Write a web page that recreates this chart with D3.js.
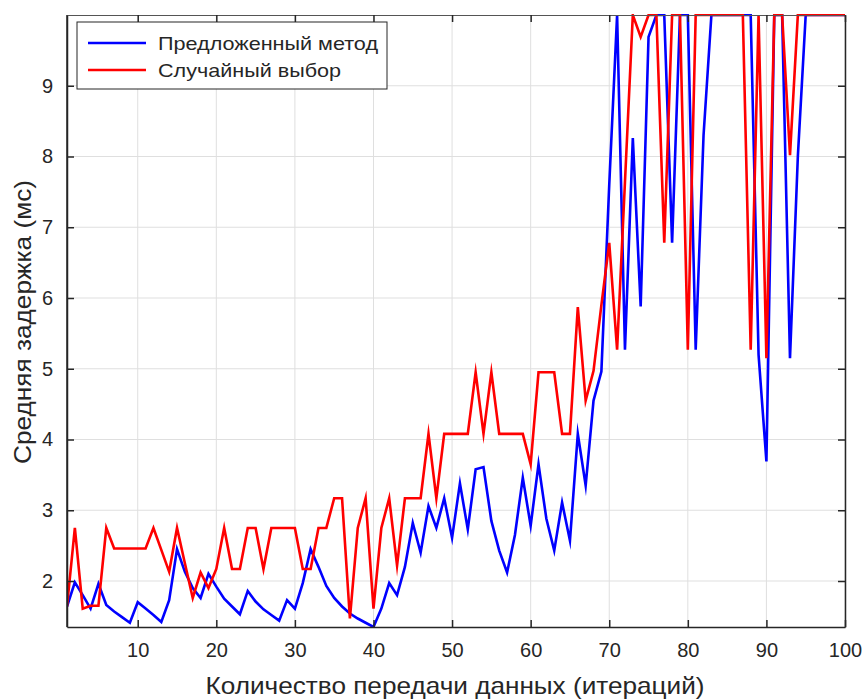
<!DOCTYPE html>
<html><head><meta charset="utf-8">
<script src="https://cdn.jsdelivr.net/npm/d3@7"></script>
<style>body{margin:0;background:#fff}svg{display:block}text{font-family:"Liberation Sans",Arial,sans-serif;fill:#262626}</style>
</head><body>
<svg id="c" width="865" height="700"></svg>
<script>
const iterations = d3.range(1, 101);
const proposed = [1.64,1.98,1.80,1.61,1.96,1.66,1.57,1.49,1.41,1.70,
1.61,1.52,1.42,1.73,2.45,2.13,1.90,1.76,2.10,1.92,
1.75,1.64,1.53,1.86,1.71,1.60,1.52,1.44,1.73,1.61,
1.97,2.45,2.20,1.93,1.76,1.64,1.54,1.47,1.41,1.35,
1.61,1.97,1.80,2.20,2.82,2.40,3.06,2.75,3.17,2.61,
3.38,2.73,3.58,3.61,2.85,2.43,2.12,2.65,3.46,2.78,
3.65,2.88,2.43,3.11,2.57,4.08,3.35,4.55,4.96,7.6,
10,5.27,8.26,5.88,9.69,10,10,6.78,10,10,
5.27,8.3,10,10,10,10,10,10,5.2,3.69,
10,10,5.15,8.0,10,10,10,10,10,10];
const random = [1.64,2.75,1.61,1.65,1.65,2.75,2.46,2.46,2.46,2.46,
2.46,2.75,2.44,2.13,2.75,2.25,1.76,2.12,1.90,2.17,
2.75,2.17,2.17,2.75,2.75,2.17,2.75,2.75,2.75,2.75,
2.17,2.17,2.75,2.75,3.17,3.17,1.47,2.75,3.17,1.61,
2.75,3.17,2.22,3.17,3.17,3.17,4.08,3.17,4.08,4.08,
4.08,4.08,4.95,4.08,4.95,4.08,4.08,4.08,4.08,3.65,
4.95,4.95,4.95,4.08,4.08,5.87,4.55,4.97,5.9,6.78,
5.27,7.64,10,9.69,10,10,6.78,10,10,5.27,
10,10,10,10,10,10,10,5.27,10,5.15,
10,10,8.02,10,10,10,10,10,10,10];
const xTicks = [10,20,30,40,50,60,70,80,90,100];
const yTicks = [2,3,4,5,6,7,8,9];
const seriesNames = ["Предложенный метод","Случайный выбор"];
const xTitle = "Количество передачи данных (итераций)";
const yTitle = "Средняя задержка (мс)";

const L=67,R=845,T=15,B=627;
const svg = d3.select("#c");
const x = d3.scaleLinear().domain([1,100]).range([L,R]);
const y = d3.scaleLinear().domain([1.35,10]).range([B,T]);

const g = svg.append("g");
g.selectAll(".gx").data(xTicks).join("line").attr("x1",d=>x(d)).attr("x2",d=>x(d)).attr("y1",T).attr("y2",B).attr("stroke","#dfdfdf").attr("stroke-width",1);
g.selectAll(".gy").data(yTicks).join("line").attr("x1",L).attr("x2",R).attr("y1",d=>y(d)).attr("y2",d=>y(d)).attr("stroke","#dfdfdf").attr("stroke-width",1);

svg.append("defs").append("clipPath").attr("id","clip").append("rect").attr("x",L).attr("y",T-1).attr("width",R-L).attr("height",B-T+1);

const line = d3.line().x((d,i)=>x(iterations[i])).y(d=>y(d));
const colors = ["#0000ff","#ff0000"];
const lg = svg.append("g").attr("clip-path","url(#clip)");
[proposed, random].forEach((s,k)=>{
  lg.append("path").datum(s).attr("d",line).attr("fill","none").attr("stroke",colors[k]).attr("stroke-width",2.6).attr("stroke-linejoin","miter").attr("stroke-miterlimit",10);
});

const ax = svg.append("g").attr("transform",`translate(0,${B})`).call(d3.axisBottom(x).tickValues(xTicks).tickSize(-7).tickPadding(16).tickSizeOuter(0));
const ay = svg.append("g").attr("transform",`translate(${L},0)`).call(d3.axisLeft(y).tickValues(yTicks).tickSize(-7).tickPadding(14).tickSizeOuter(0));
const at = svg.append("g").attr("transform",`translate(0,${T})`).call(d3.axisTop(x).tickValues(xTicks).tickSize(-7).tickFormat("").tickSizeOuter(0));
const ar = svg.append("g").attr("transform",`translate(${R},0)`).call(d3.axisRight(y).tickValues(yTicks).tickSize(-7).tickFormat("").tickSizeOuter(0));
[ax,ay,ar].forEach(a=>{a.select(".domain").attr("stroke","#262626").attr("stroke-width",1.5);a.selectAll(".tick line").attr("stroke","#262626").attr("stroke-width",1.5);});
at.select(".domain").attr("stroke","#555").attr("stroke-width",1);
at.selectAll(".tick line").attr("stroke","#262626").attr("stroke-width",1.5);
svg.selectAll(".tick text").attr("font-size",20).attr("fill","#262626").attr("font-family","Liberation Sans, Arial, sans-serif");
svg.append("line").attr("x1",L).attr("x2",L).attr("y1",T).attr("y2",B).attr("stroke","#262626").attr("stroke-width",1.5);

svg.append("text").attr("x",455).attr("y",694).attr("text-anchor","middle").attr("font-size",24).attr("textLength",499).attr("lengthAdjust","spacingAndGlyphs").text(xTitle);
svg.append("text").attr("transform","translate(31,322) rotate(-90)").attr("text-anchor","middle").attr("font-size",24).attr("textLength",284).attr("lengthAdjust","spacingAndGlyphs").text(yTitle);

const legendWidths = [220, 183];
const leg = svg.append("g");
leg.append("rect").attr("x",77).attr("y",22).attr("width",310).attr("height",67).attr("fill","#fff").attr("stroke","#262626").attr("stroke-width",1);
seriesNames.forEach((n,k)=>{
  const yy = 43 + k*27;
  leg.append("line").attr("x1",88).attr("x2",146).attr("y1",yy).attr("y2",yy).attr("stroke",colors[k]).attr("stroke-width",2.6);
  leg.append("text").attr("x",158).attr("y",yy+6.5).attr("font-size",18.5).attr("textLength",legendWidths[k]).attr("lengthAdjust","spacingAndGlyphs").text(n);
});
</script>
</body></html>
